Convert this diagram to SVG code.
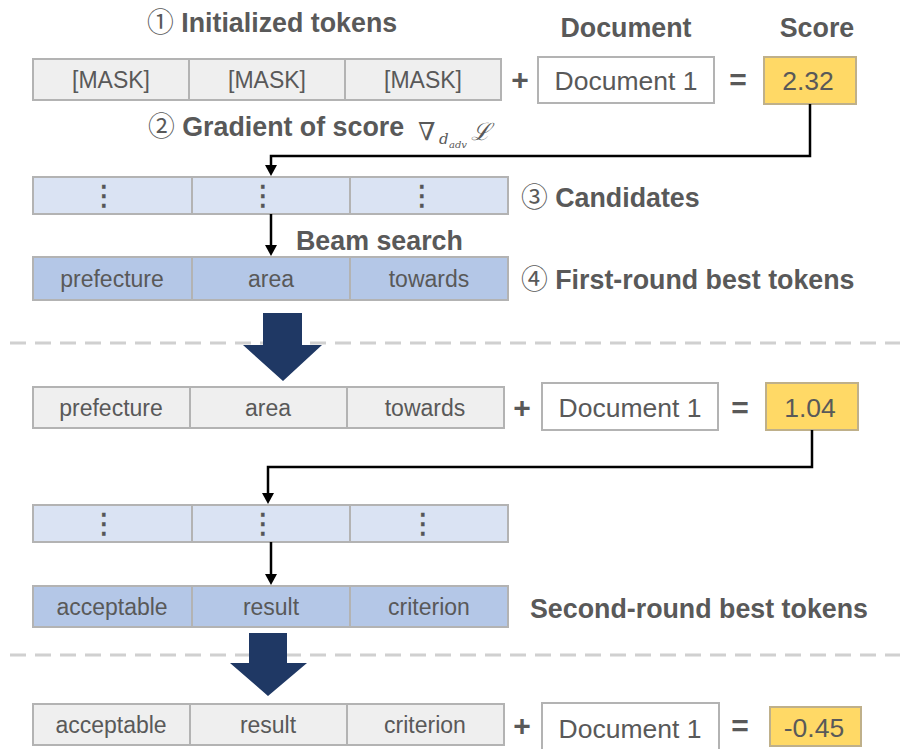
<svg xmlns="http://www.w3.org/2000/svg" width="902" height="749" viewBox="0 0 902 749">
<style>
.t{font-family:"Liberation Sans",Arial,sans-serif;fill:#595959}
.tok{font-size:23px;text-anchor:middle}
.doc{font-size:26.5px;text-anchor:middle}
.ttl{font-size:26.8px;font-weight:bold}
.num{font-family:"Noto Sans CJK JP","DejaVu Sans",sans-serif;font-weight:normal}
.ell{font-family:"DejaVu Sans",sans-serif;font-size:28px;fill:#555;stroke:#555;stroke-width:0.6;text-anchor:middle}
.g{fill:#efefef;stroke:#b3b3b3;stroke-width:2}
.c{fill:#dae3f3;stroke:#b3b3b3;stroke-width:2}
.b{fill:#b4c7e7;stroke:#b3b3b3;stroke-width:2}
.w{fill:#ffffff;stroke:#b3b3b3;stroke-width:2}
.s{fill:#ffd966;stroke:#bfb08a;stroke-width:2}
.op{font-family:"Liberation Sans",Arial,sans-serif;font-size:30px;font-weight:bold;fill:#595959;text-anchor:middle}
.con{fill:none;stroke:#000;stroke-width:2.5}
.dash{stroke:#d0d0d0;stroke-width:3;stroke-dasharray:16 9}
.big{fill:#1f3864}
</style>

<g id="titles">
<text class="t ttl" x="147" y="32"><tspan class="num">①</tspan> Initialized tokens</text>
<text class="t ttl" x="626" y="37" text-anchor="middle">Document</text>
<text class="t ttl" x="817" y="37" text-anchor="middle">Score</text>
<text class="t ttl" x="148" y="136"><tspan class="num">②</tspan> Gradient of score</text>
<g id="grad-math" font-family="'DejaVu Serif','Liberation Serif',serif" fill="#595959">
<text x="418" y="140" font-size="25">∇</text>
<text x="439" y="144" font-size="15" font-style="italic">d</text>
<text x="449" y="148" font-size="10" font-style="italic">adv</text>
<text x="471" y="140" font-size="24" font-style="italic">ℒ</text>
</g>
<text class="t ttl" x="521" y="207"><tspan class="num">③</tspan> Candidates</text>
<text class="t ttl" x="296" y="250">Beam search</text>
<text class="t ttl" x="521" y="289"><tspan class="num">④</tspan> First-round best tokens</text>
<text class="t ttl" x="530" y="618">Second-round best tokens</text>
</g>

<g id="row1">
<rect class="g" x="33" y="59" width="156" height="41"/>
<rect class="g" x="189" y="59" width="156" height="41"/>
<rect class="g" x="345" y="59" width="156" height="41"/>
<text class="t tok" x="111" y="88">[MASK]</text>
<text class="t tok" x="267" y="88">[MASK]</text>
<text class="t tok" x="423" y="88">[MASK]</text>
</g>
<text class="op" x="520" y="90">+</text>
<g id="doc1">
<rect class="w" x="538" y="57" width="176" height="46"/>
<text class="t doc" x="626" y="90">Document 1</text>
</g>
<text class="op" x="738" y="90">=</text>
<g id="score1">
<rect class="s" x="764" y="57" width="92" height="47"/>
<text class="t doc" x="808" y="90">2.32</text>
</g>

<g id="row2">
<rect class="c" x="33" y="177" width="159" height="37"/>
<rect class="c" x="192" y="177" width="158" height="37"/>
<rect class="c" x="350" y="177" width="158" height="37"/>
<text class="ell" x="104" y="205">⋮</text>
<text class="ell" x="263" y="205">⋮</text>
<text class="ell" x="422" y="205">⋮</text>
</g>

<g id="row3">
<rect class="b" x="33" y="257" width="159" height="43"/>
<rect class="b" x="192" y="257" width="158" height="43"/>
<rect class="b" x="350" y="257" width="158" height="43"/>
<text class="t tok" x="112" y="287">prefecture</text>
<text class="t tok" x="271" y="287">area</text>
<text class="t tok" x="429" y="287">towards</text>
</g>

<line class="dash" x1="10" y1="343" x2="900" y2="343"/>
<path id="bigarrow1" class="big" d="M263,313 H302 V345 H322 L283,381 L243,345 H263 Z"/>

<g id="row4">
<rect class="g" x="33" y="387" width="157" height="41"/>
<rect class="g" x="190" y="387" width="157" height="41"/>
<rect class="g" x="347" y="387" width="157" height="41"/>
<text class="t tok" x="111" y="416">prefecture</text>
<text class="t tok" x="268" y="416">area</text>
<text class="t tok" x="425" y="416">towards</text>
</g>
<text class="op" x="522" y="418">+</text>
<g id="doc2">
<rect class="w" x="542" y="383" width="176" height="47"/>
<text class="t doc" x="630" y="417">Document 1</text>
</g>
<text class="op" x="740" y="418">=</text>
<g id="score2">
<rect class="s" x="766" y="383" width="92" height="47"/>
<text class="t doc" x="810" y="417">1.04</text>
</g>

<g id="row5">
<rect class="c" x="33" y="505" width="159" height="37"/>
<rect class="c" x="192" y="505" width="158" height="37"/>
<rect class="c" x="350" y="505" width="158" height="37"/>
<text class="ell" x="104" y="533">⋮</text>
<text class="ell" x="263" y="533">⋮</text>
<text class="ell" x="423" y="533">⋮</text>
</g>

<g id="row6">
<rect class="b" x="33" y="586" width="159" height="41"/>
<rect class="b" x="192" y="586" width="158" height="41"/>
<rect class="b" x="350" y="586" width="158" height="41"/>
<text class="t tok" x="112" y="615">acceptable</text>
<text class="t tok" x="271" y="615">result</text>
<text class="t tok" x="429" y="615">criterion</text>
</g>

<line class="dash" x1="10" y1="655" x2="900" y2="655"/>
<path id="bigarrow2" class="big" d="M249,633 H287 V663 H307 L268,696 L230,663 H249 Z"/>

<g id="row7">
<rect class="g" x="33" y="704" width="157" height="41"/>
<rect class="g" x="190" y="704" width="157" height="41"/>
<rect class="g" x="347" y="704" width="157" height="41"/>
<text class="t tok" x="111" y="733">acceptable</text>
<text class="t tok" x="268" y="733">result</text>
<text class="t tok" x="425" y="733">criterion</text>
</g>
<text class="op" x="522" y="736">+</text>
<g id="doc3">
<rect class="w" x="542" y="703" width="177" height="50"/>
<text class="t doc" x="630" y="738">Document 1</text>
</g>
<text class="op" x="740" y="736">=</text>
<g id="score3">
<rect class="s" x="770" y="707" width="91" height="39"/>
<text class="t doc" x="814" y="737">-0.45</text>
</g>

<g id="connectors">
<path class="con" d="M810,104 V156 H271 V166"/>
<path d="M265,165 H277 L271,176 Z" fill="#000"/>
<path class="con" d="M271,214 V246"/>
<path d="M265,245 H277 L271,256 Z" fill="#000"/>
<path class="con" d="M812,430 V467 H268 V494"/>
<path d="M262,493 H274 L268,504 Z" fill="#000"/>
<path class="con" d="M271,542 V575"/>
<path d="M265,574 H277 L271,585 Z" fill="#000"/>
</g>
</svg>
